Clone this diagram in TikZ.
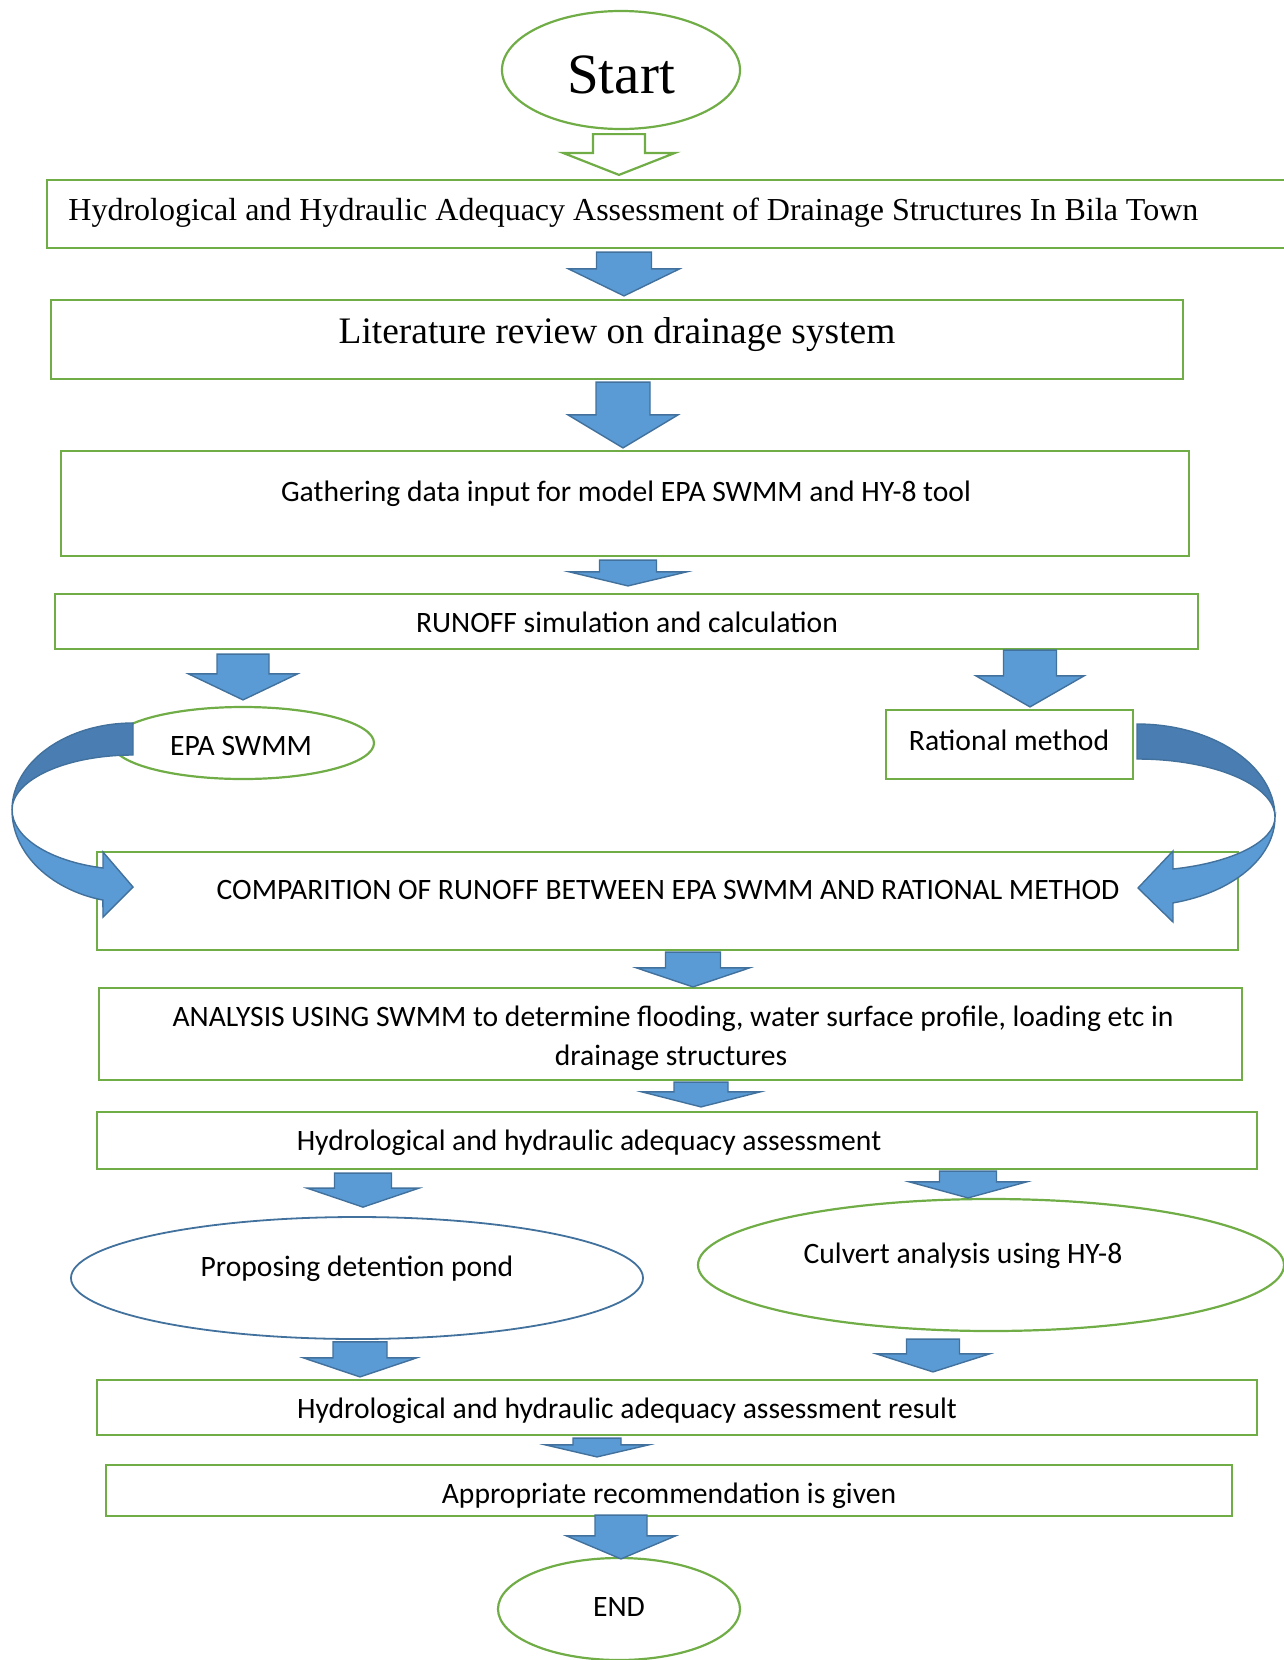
\documentclass[tikz,border=0pt]{standalone}
\usepackage{fontspec}
\setmainfont{Carlito}
\newfontfamily\timesfont{Liberation Serif}
\usetikzlibrary{shapes.geometric,calc}

\definecolor{flowgreen}{HTML}{70AD47}
\definecolor{flowblue}{HTML}{5B9BD5}
\definecolor{flowedge}{HTML}{41719C}
\definecolor{flowdark}{HTML}{4A7EB3}

\tikzset{
  sz/.style 2 args={minimum width=#1*0.5pt, minimum height=#2*0.5pt},
  box/.style={draw=flowgreen, line width=1.1pt, rectangle, inner sep=0pt},
  oval/.style={draw=flowgreen, line width=1.1pt, ellipse, inner sep=0pt},
  blockarr/.style={fill=flowblue, draw=flowedge, line width=0.7pt},
  hollowarr/.style={fill=white, draw=flowgreen, line width=1.1pt},
  curveback/.style={fill=flowdark, draw=flowedge, line width=0.7pt},
  curvefront/.style={fill=flowblue, draw=flowedge, line width=0.7pt},
  lbl/.style={inner sep=0pt, anchor=base, font=\fontsize{14.8}{19.5}\selectfont},
}

% block arrow from one node down to the next (last two: gap at top, gap at tip)
\newcommand{\blockarrow}[9][blockarr]{%
  \coordinate (tl) at ($(#4,0 |- #2)+(0,#8)$);
  \coordinate (tp) at ($(#4,0 |- #3)+(0,-#9)$);
  \draw[#1] ($(tl)+(-#5,0)$) -- ($(tl)+(#5,0)$) -- ($(tp)+(#5,-#7)$)
    -- ($(tp)+(#6,-#7)$) -- (tp) -- ($(tp)+(-#6,-#7)$) -- ($(tp)+(-#5,-#7)$) -- cycle;
}

\begin{document}
\begin{tikzpicture}[x=0.5pt, y=-0.5pt]
  \clip (0,0) rectangle (1284,1660);

  % Ovals
  \node[oval, sz={238}{118}] (start) at (621,70) {};
  \node[oval, sz={262}{72}] (epa) at (243,743) {};
  \node[oval, draw=flowedge, line width=0.9pt, sz={572}{122}] (prop) at (357,1278) {};
  \node[oval, sz={586}{132}] (culv) at (991,1265) {};
  \node[oval, sz={242}{102}] (finish) at (619,1609) {};

  % Boxes
  \node[box, sz={1253}{68}] (b1) at (673.5,214) {};
  \node[box, sz={1132}{79}] (b2) at (617,339.5) {};
  \node[box, sz={1128}{105}] (b3) at (625,503.5) {};
  \node[box, sz={1143}{55}] (b4) at (626.5,621.5) {};
  \node[box, sz={247}{69}] (rat) at (1009.5,744.5) {};
  \node[box, sz={1141}{98}] (cmp) at (667.5,901) {};
  \node[box, sz={1143}{92}] (ana) at (670.5,1034) {};
  \node[box, sz={1160}{57}] (adq) at (677,1140.5) {};
  \node[box, sz={1160}{55}] (res) at (677,1407.5) {};
  \node[box, sz={1126}{51}] (rec) at (669,1490.5) {};

  % Block arrows
  \blockarrow[hollowarr]{start.south}{b1.north}{619}{26}{56}{22}{4}{4}
  \foreach \fr/\tn/\cx/\hs/\hh/\hl/\ga/\gb in {b1/b2/624/27.5/55.5/27/3/3,
      b2/b3/623/27/55/33/2/2, b3/b4/628/28.5/58.5/14/3/7, b4/epa/243/26/54.5/26/4/6,
      b4/rat/1030/26.5/54/31/0/2, cmp/ana/693/27.5/56.5/19/1/0, ana/adq/701/27/59/15/1/4,
      adq/prop/363/28.5/56/19/3/9, adq/culv/968/28.5/58.5/16/1/0, prop/res/360/27/56.5/19/2/2,
      culv/res/933/26.5/56.5/18/7/7, res/rec/597/24/51.5/12/2/7, rec/finish/621/26/54.5/23/-2/-2}
  {
    \blockarrow{\fr.south}{\tn.north}{\cx}{\hs}{\hh}{\hl}{\ga}{\gb}
  }

  % Curved arrows into the comparison box
  \draw[curveback] (133,723) arc[start angle=-90, end angle=-180, x radius=121, y radius=87]
    arc[start angle=180, end angle=270, x radius=121, y radius=55] -- cycle;
  \draw[curvefront] (12,810) arc[start angle=180, end angle=104.4, x radius=121, y radius=93]
    -- (103,917) -- (133,887) -- (103,852) -- (103,868)
    arc[start angle=104.4, end angle=180, x radius=121, y radius=60] -- cycle;
  \draw[curveback] (1137,724) arc[start angle=-90, end angle=0, x radius=138, y radius=93]
    arc[start angle=0, end angle=-90, x radius=138, y radius=58] -- cycle;
  \draw[curvefront] (1275,817) arc[start angle=0, end angle=74.9, x radius=138, y radius=89]
    -- (1173,922) -- (1138,888) -- (1173,851) -- (1173,869)
    arc[start angle=74.9, end angle=0, x radius=138, y radius=54] -- cycle;

  % Labels
  \node[lbl, font=\timesfont\fontsize{28.5}{34}\selectfont] (tstart) at (621,93) {Start};
  \node[lbl, anchor=base west, font=\timesfont\fontsize{16}{19}\selectfont] (t1) at (68,220)
    {Hydrological and Hydraulic Adequacy Assessment of Drainage Structures In Bila Town};
  \node[lbl, font=\timesfont\fontsize{18.7}{22}\selectfont] (t2) at (617,343) {Literature review on drainage system};
  \node[lbl] (t3) at (626,501) {Gathering data input for model EPA SWMM and HY-8 tool};
  \node[lbl] (t4) at (627,632) {RUNOFF simulation and calculation};
  \node[lbl] (tepa) at (241,755) {EPA SWMM};
  \node[lbl] (trat) at (1009,750) {Rational method};
  \node[lbl] (tcmp) at (668,899) {COMPARITION OF RUNOFF BETWEEN EPA SWMM AND RATIONAL METHOD};
  \node[lbl] (tana) at (673,1026) {ANALYSIS USING SWMM to determine flooding, water surface profile, loading etc in};
  \node[lbl] (tana2) at (671,1065) {drainage structures};
  \node[lbl] (tadq) at (589,1150) {Hydrological and hydraulic adequacy assessment};
  \node[lbl] (tprop) at (357,1276) {Proposing detention pond};
  \node[lbl] (tculv) at (963,1263) {Culvert analysis using HY-8};
  \node[lbl] (tres) at (627,1418) {Hydrological and hydraulic adequacy assessment result};
  \node[lbl] (trec) at (669,1503) {Appropriate recommendation is given};
  \node[lbl] (tend) at (619,1616) {END};
\end{tikzpicture}
\end{document}
